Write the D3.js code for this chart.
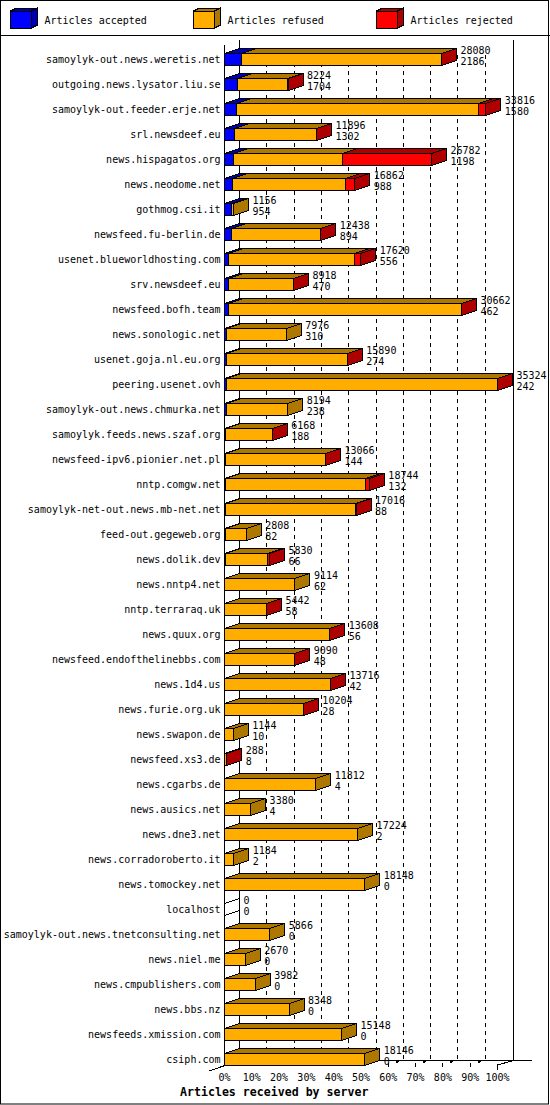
<!DOCTYPE html>
<html><head><meta charset="utf-8">
<script src="https://cdn.jsdelivr.net/npm/d3@7"></script>
<style>
html,body{margin:0;padding:0;background:#fff}
svg{display:block}
text{font-family:"DejaVu Sans Mono","Liberation Mono",monospace;font-size:10px;fill:#000}
</style></head><body>
<svg id="c" width="550" height="1105"></svg>
<script>
const hosts=["samoylyk-out.news.weretis.net","outgoing.news.lysator.liu.se","samoylyk-out.feeder.erje.net","srl.newsdeef.eu","news.hispagatos.org","news.neodome.net","gothmog.csi.it","newsfeed.fu-berlin.de","usenet.blueworldhosting.com","srv.newsdeef.eu","newsfeed.bofh.team","news.sonologic.net","usenet.goja.nl.eu.org","peering.usenet.ovh","samoylyk-out.news.chmurka.net","samoylyk.feeds.news.szaf.org","newsfeed-ipv6.pionier.net.pl","nntp.comgw.net","samoylyk-net-out.news.mb-net.net","feed-out.gegeweb.org","news.dolik.dev","news.nntp4.net","nntp.terraraq.uk","news.quux.org","newsfeed.endofthelinebbs.com","news.1d4.us","news.furie.org.uk","news.swapon.de","newsfeed.xs3.de","news.cgarbs.de","news.ausics.net","news.dne3.net","news.corradoroberto.it","news.tomockey.net","localhost","samoylyk-out.news.tnetconsulting.net","news.niel.me","news.cmpublishers.com","news.bbs.nz","newsfeeds.xmission.com","csiph.com"];
const totals=[28080,8224,33816,11896,26782,16862,1156,12438,17620,8918,30662,7976,15890,35324,8194,6168,13066,18744,17016,2808,5830,9114,5442,13608,9090,13716,10204,1144,288,11812,3380,17224,1184,18148,0,5866,2670,3982,8348,15148,18146];
const accepted=[2186,1704,1580,1302,1198,988,954,894,556,470,462,310,274,242,238,188,144,132,88,82,66,62,58,56,48,42,28,10,8,4,4,2,2,0,0,0,0,0,0,0,0];
const rejected=[40,30,950,30,11500,1150,0,30,800,20,40,0,30,40,0,20,30,480,30,0,220,0,20,30,20,30,20,0,60,0,0,0,0,0,0,0,0,0,0,0,0];
const legendLabels=["Articles accepted","Articles refused","Articles rejected"];
const axisTitle="Articles received by server";
const percentTicks=[0,10,20,30,40,50,60,70,80,90,100];

const front=["#0000ff","#ffae00","#ff0000"], dark=["#0000ae","#ae7800","#ae0000"];
const dx=15, dy=5, barH=12;
const svg=d3.select("#c");
const x=d3.scaleLinear().domain([0,d3.max(totals)]).range([224.5,497.5]);
const pct=d3.scaleLinear().domain([0,100]).range([224.5,497.5]);
const y=d3.scaleLinear().domain([0,hosts.length-1]).range([53,1053]);
const snap=v=>Math.round(v-.5)+.5;
const L=(a,b,c,d,extra={})=>{const l=svg.append("path").attr("d",`M${a} ${b}L${c} ${d}`).attr("stroke","#000").attr("fill","none");for(const k in extra)l.attr(k,extra[k]);return l;};
const poly=(pts,fill,g=svg)=>g.append("polygon").attr("points",pts.map(p=>p.join(",")).join(" ")).attr("fill",fill).attr("stroke","#000").attr("stroke-linejoin","miter");
const floorY=y(hosts.length-1)+barH-5;
const backTop=40;

svg.append("rect").attr("x",.5).attr("y",.5).attr("width",548).attr("height",1103.5).attr("fill","#fff").attr("stroke","#000");
L(0,35.5,550,35.5);

[[10.5,44.5],[193.5,227.5],[376.5,410.5]].forEach(([bx,tx],i)=>{
  poly([[bx,11],[bx+6,8],[bx+27,8],[bx+21,11]],dark[i]);
  poly([[bx+21,11],[bx+27,8],[bx+27,25],[bx+21,28]],dark[i]);
  poly([[bx,11],[bx+21,11],[bx+21,28],[bx,28]],front[i]);
  svg.append("text").attr("x",tx).attr("y",23.5).text(legendLabels[i]);
});

const b0=snap(pct(0)+dx), b100=snap(pct(100)+dx+.5);
L(b0,backTop,b0,floorY+.5);
L(b100,backTop,b100,floorY+.5);
percentTicks.slice(1,-1).forEach(p=>{
  const t=snap(pct(p)+dx);
  L(t,55,t,floorY,{"stroke-dasharray":"4 4"});
});
L(b0,floorY+.5,532,floorY+.5);
L(224.5,45,224.5,1065);
L(209,1071,b0,floorY+.5);
L(pct(100),1065,b100,floorY+.5);
L(pct(100),1065,pct(100),1070);
percentTicks.filter(p=>p>=60&&p<=90).forEach(p=>{
  const t=snap(pct(p));
  L(t,1063,t,1067);
  L(t+8,1063,t+9.5,1060.5,{"stroke-width":2});
});

hosts.forEach((h,i)=>{
  const t=y(i)+.5, refused=totals[i]-accepted[i]-rejected[i];
  const vals=[accepted[i],refused,rejected[i]];
  svg.append("text").attr("x",220.5).attr("y",t+9.5).attr("text-anchor","end").text(h);
  const g=svg.append("g");
  if(totals[i]===0){
    const a=x(0);
    L(a,t,a+dx,t-dy);L(a,t+barH,a+dx,t+barH-dy);
  } else {
    let cum=0, last=vals.reduce((m,v,k)=>v>0?k:m,0);
    vals.forEach((v,k)=>{
      if(v<=0) return;
      const a=snap(x(cum)), b=snap(x(cum+v));
      poly([[a,t],[a+dx,t-dy],[b+dx,t-dy],[b,t]],dark[k],g);
      if(k===last) poly([[b,t],[b+dx,t-dy],[b+dx,t+barH-dy],[b,t+barH]],dark[k],g);
      poly([[a,t],[b,t],[b,t+barH],[a,t+barH]],front[k],g);
      cum+=v;
    });
  }
  const lx=x(totals[i])+dx+4;
  svg.append("text").attr("x",lx).attr("y",t+.5).text(totals[i]);
  svg.append("text").attr("x",lx).attr("y",t+11.5).text(accepted[i]);
});

const ax=d3.axisBottom(pct).tickValues(percentTicks).tickFormat(d=>d+"%").tickSize(0).tickPadding(0);
const ag=svg.append("g").attr("transform","translate(-0.5,1074)").call(ax);
ag.select(".domain").remove();
ag.selectAll("text").style("font-family",'"DejaVu Sans Mono","Liberation Mono",monospace').style("font-size","10px").attr("fill","#000");
svg.append("text").attr("x",180).attr("y",1096).style("font-weight","bold").style("font-size","11.6px").text(axisTitle);
svg.selectAll("polygon,path").attr("shape-rendering","crispEdges");
</script></body></html>
